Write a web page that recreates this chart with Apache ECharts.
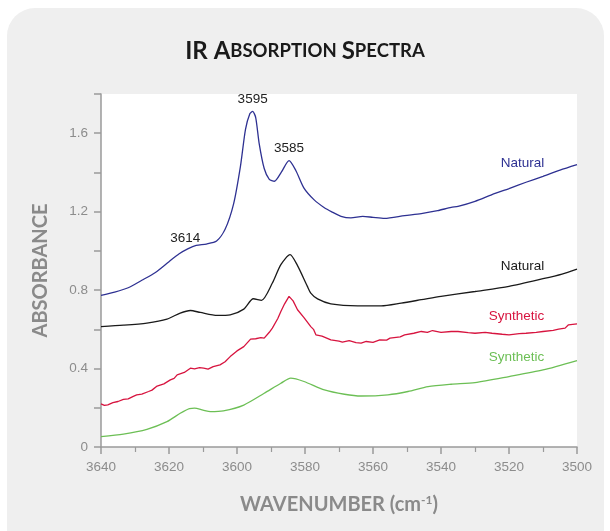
<!DOCTYPE html>
<html>
<head>
<meta charset="utf-8">
<script src="https://cdn.jsdelivr.net/npm/echarts@6/dist/echarts.min.js"></script>
<style>
  html, body { margin: 0; padding: 0; background: #fff; }
  .panel {
    position: absolute; left: 7px; top: 8px; width: 597px; height: 560px;
    background: #efefef; border-radius: 28px;
  }
  #chart { position: absolute; left: 0; top: 0; width: 610px; height: 531px; }
</style>
</head>
<body>
<div class="panel"></div>
<div id="chart"></div>
<script>
// wavenumber (cm-1) / absorbance
const blueWn = [3640, 3636, 3632, 3628, 3624, 3620, 3617, 3614.5, 3612, 3609, 3606, 3603.5, 3601, 3599, 3597.5, 3596.2, 3595.4, 3594.5, 3593.5, 3592, 3590.5, 3589, 3587, 3584.7, 3582.7, 3580.3, 3577.3, 3574.3, 3572, 3569.4, 3566.5, 3563, 3560, 3556.6, 3550.7, 3545.8, 3541, 3537, 3535, 3530, 3525, 3520, 3515, 3510, 3505, 3500]
const blueAbs = [0.773, 0.79, 0.812, 0.85, 0.89, 0.945, 0.985, 1.01, 1.028, 1.035, 1.05, 1.11, 1.24, 1.43, 1.62, 1.70, 1.711, 1.68, 1.55, 1.42, 1.365, 1.355, 1.40, 1.46, 1.41, 1.32, 1.26, 1.22, 1.198, 1.176, 1.168, 1.176, 1.171, 1.166, 1.18, 1.19, 1.205, 1.222, 1.227, 1.253, 1.287, 1.318, 1.35, 1.38, 1.412, 1.44]

const blackWn = [3640, 3633.4, 3626.5, 3620.6, 3616.7, 3613.7, 3610.8, 3605.8, 3602, 3598, 3595.2, 3592.8, 3589.6, 3587.1, 3584.4, 3582.2, 3579.3, 3578.3, 3576.3, 3572.4, 3564.5, 3557.6, 3551.7, 3545.8, 3540, 3530, 3520, 3510, 3504.4, 3500]
const blackAbs = [0.614, 0.621, 0.632, 0.652, 0.683, 0.696, 0.686, 0.671, 0.674, 0.703, 0.756, 0.748, 0.836, 0.93, 0.981, 0.925, 0.819, 0.785, 0.755, 0.73, 0.72, 0.72, 0.734, 0.751, 0.768, 0.793, 0.819, 0.858, 0.882, 0.907]

const redWn = [3640, 3639, 3638, 3636.5, 3635, 3633.4, 3632, 3630.5, 3629.5, 3628, 3626, 3625, 3623.5, 3621.5, 3619.6, 3618.5, 3617.6, 3615.5, 3613.7, 3612.5, 3611, 3609.8, 3608.5, 3607, 3605, 3603.5, 3602, 3600, 3598, 3596, 3594.5, 3593, 3592, 3590.5, 3589.6, 3588, 3587.1, 3586, 3584.7, 3583.5, 3582.2, 3580.3, 3578.3, 3577.5, 3576.8, 3575, 3572.4, 3570, 3569, 3567, 3565, 3563.5, 3562, 3560, 3558, 3556, 3555, 3552, 3550.7, 3548, 3545.8, 3544, 3542.5, 3540, 3537, 3535, 3532, 3530, 3527, 3525, 3522, 3520, 3517, 3515, 3512, 3510, 3507, 3505.4, 3503.5, 3502.5, 3500]
const redAbs = [0.22, 0.212, 0.215, 0.226, 0.232, 0.243, 0.245, 0.258, 0.266, 0.27, 0.283, 0.29, 0.311, 0.322, 0.342, 0.35, 0.368, 0.38, 0.402, 0.398, 0.405, 0.402, 0.397, 0.41, 0.419, 0.435, 0.461, 0.49, 0.512, 0.55, 0.552, 0.558, 0.555, 0.585, 0.606, 0.655, 0.691, 0.73, 0.768, 0.745, 0.70, 0.66, 0.614, 0.60, 0.572, 0.565, 0.546, 0.54, 0.535, 0.543, 0.532, 0.53, 0.538, 0.534, 0.546, 0.545, 0.555, 0.562, 0.572, 0.58, 0.589, 0.584, 0.594, 0.584, 0.589, 0.589, 0.583, 0.58, 0.585, 0.58, 0.575, 0.572, 0.578, 0.58, 0.585, 0.589, 0.595, 0.601, 0.606, 0.623, 0.628]

const greenWn = [3640, 3633.4, 3626.5, 3620.6, 3616.7, 3614, 3612.5, 3610, 3607.8, 3604, 3598, 3592, 3587.1, 3584.2, 3580.3, 3574.3, 3568.4, 3563.5, 3555.6, 3549.7, 3543.8, 3537, 3530, 3520, 3510, 3500]
const greenAbs = [0.053, 0.066, 0.09, 0.129, 0.172, 0.196, 0.198, 0.188, 0.18, 0.184, 0.214, 0.274, 0.325, 0.351, 0.334, 0.291, 0.269, 0.26, 0.266, 0.283, 0.308, 0.32, 0.328, 0.359, 0.393, 0.441]

const seriesNames = ['Natural', 'Natural', 'Synthetic', 'Synthetic']
const seriesColors = ['#2e3192', '#1a1a1a', '#d7143f', '#6cbf55']
// where each series name is written (right end of text)
const nameWn = [3509.5, 3509.5, 3509.5, 3509.5]
const nameAbs = [1.445, 0.919, 0.669, 0.46]

// peak annotations on the blue spectrum
const peakText = ['3595', '3585', '3614']
const peakWn = [3595.4, 3584.7, 3615.2]
const peakAbs = [1.711, 1.46, 1.0]

const pair = (xs, ys) => xs.map((x, i) => [x, ys[i]])

const chart = echarts.init(document.getElementById('chart'))

const labelFont = 'Liberation Sans'
const lines = [pair(blueWn, blueAbs), pair(blackWn, blackAbs), pair(redWn, redAbs), pair(greenWn, greenAbs)]

const series = lines.map((data, i) => ({
  name: seriesNames[i] + i,
  type: 'line',
  data: data,
  smooth: i === 2 ? false : 0.25,
  showSymbol: false,
  symbol: 'none',
  lineStyle: { color: seriesColors[i], width: 1.3 },
  silent: true,
  z: 5 - i,
  markPoint: {
    symbol: 'circle',
    symbolSize: 1,
    itemStyle: { color: 'rgba(0,0,0,0)' },
    label: {
      show: true,
      position: 'left',
      distance: 0,
      color: seriesColors[i],
      fontFamily: labelFont,
      fontSize: 13.5
    },
    data: [{ coord: [nameWn[i], nameAbs[i]], value: seriesNames[i] }]
  }
}))

series.push({
  type: 'scatter',
  data: [],
  silent: true,
  markPoint: {
    symbol: 'circle',
    symbolSize: 1,
    itemStyle: { color: 'rgba(0,0,0,0)' },
    label: {
      show: true,
      position: 'top',
      distance: 5,
      color: '#222',
      fontFamily: labelFont,
      fontSize: 13.5
    },
    data: peakText.map((t, i) => ({ coord: [peakWn[i], peakAbs[i]], value: t }))
  }
})

const option = {
  backgroundColor: 'transparent',
  animation: false,
  title: {
    text: '{a|IR A}{b|BSORPTION} {a|S}{b|PECTRA}',
    left: 'center',
    top: 34,
    textStyle: {
      rich: {
        a: { fontFamily: 'Lato', fontWeight: 'bold', fontSize: 24, color: '#1a1a1a' },
        b: { fontFamily: 'Lato', fontWeight: 'bold', fontSize: 18.5, color: '#1a1a1a' }
      }
    }
  },
  grid: {
    left: 101, right: 33, top: 94, bottom: 84,
    show: true, backgroundColor: '#fff', borderWidth: 0
  },
  xAxis: {
    type: 'value',
    inverse: true,
    min: 3500,
    max: 3640,
    interval: 20,
    name: '{t|WAVENUMBER (cm}{s|-1}{t|)}',
    nameLocation: 'middle',
    nameGap: 47,
    nameTextStyle: {
      rich: {
        t: { fontFamily: 'Lato', fontWeight: 'bold', fontSize: 20, color: '#8a8a8a' },
        s: { fontFamily: 'Lato', fontWeight: 'bold', fontSize: 12, color: '#8a8a8a', padding: [0, 0, 9, 0] }
      }
    },
    axisLine: { lineStyle: { color: '#9a9a9a', width: 1.5 } },
    axisTick: { length: 7, lineStyle: { color: '#9a9a9a', width: 1.5 } },
    minorTick: { show: true, splitNumber: 2, length: 5, lineStyle: { color: '#9a9a9a', width: 1.2 } },
    axisLabel: { color: '#8c8c8c', fontFamily: labelFont, fontSize: 13.5, margin: 13, formatter: v => String(v) },
    splitLine: { show: false }
  },
  yAxis: {
    type: 'value',
    min: 0,
    max: 1.8,
    interval: 0.2,
    name: 'ABSORBANCE',
    nameLocation: 'middle',
    nameGap: 50,
    nameTextStyle: { fontFamily: 'Lato', fontWeight: 'bold', fontSize: 20, color: '#8a8a8a' },
    axisLine: { show: true, lineStyle: { color: '#9a9a9a', width: 1.5 } },
    axisTick: { show: true, length: 7, lineStyle: { color: '#9a9a9a', width: 1.5 } },
    axisLabel: {
      color: '#8c8c8c', fontFamily: labelFont, fontSize: 13.5, margin: 13,
      formatter: v => {
        const k = Math.round(v * 10)
        if (k % 4 !== 0) return ''
        return k === 0 ? '0' : v.toFixed(1)
      }
    },
    splitLine: { show: false }
  },
  series: series
}

chart.setOption(option)
</script>
</body>
</html>
